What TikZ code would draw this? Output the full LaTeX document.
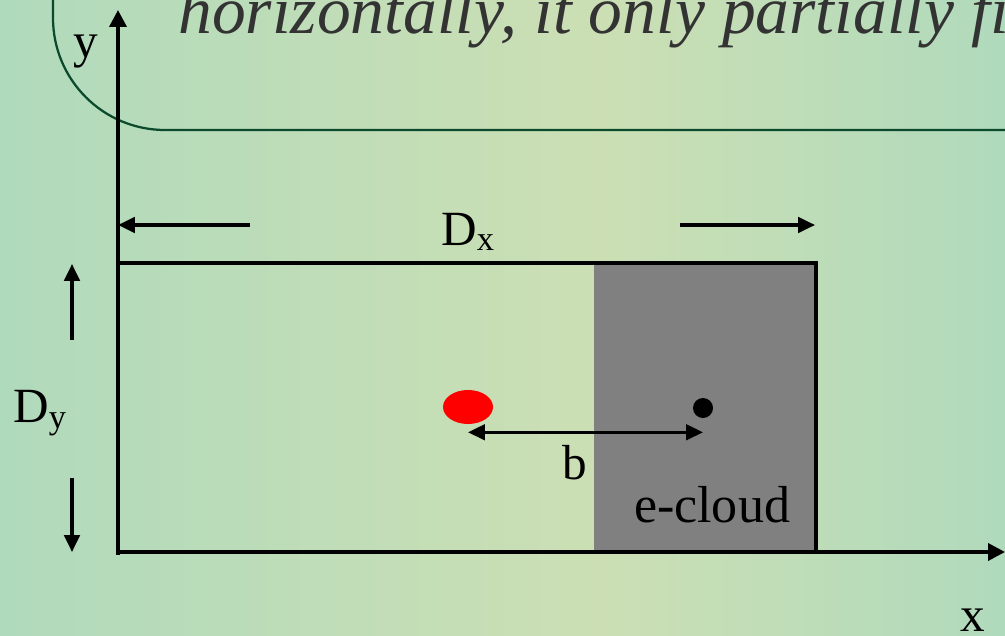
\documentclass[tikz,border=0pt]{standalone}
\usepackage{fontspec}
\setmainfont{Liberation Serif}
\usetikzlibrary{arrows.meta,positioning,shapes.geometric}
\definecolor{slidegreen}{HTML}{B0DABC}
\definecolor{slidepale}{HTML}{CCDFB4}
\definecolor{framegreen}{HTML}{0B4A2C}
\definecolor{titlegray}{HTML}{333333}
\begin{document}
\begin{tikzpicture}[
x=0.025cm, y=-0.025cm,
axis/.style={line width=2.6pt, -{Triangle[length=12pt,width=12pt]}},
dimarrow/.style={line width=2.2pt, -{Triangle[length=12pt,width=11pt]}},
lbl/.style={font=\fontsize{35}{38}\selectfont, inner sep=0pt}
]
% slide background
\shade[left color=slidegreen, right color=slidepale] (0,0) rectangle (600,636);
\shade[left color=slidepale, right color=slidegreen] (600,0) rectangle (1005,636);
\useasboundingbox (0,0) rectangle (1005,636);
% title frame
\draw[framegreen, line width=1.6pt, rounded corners=2.8cm] (53,-60) -- (53,130) -- (1060,130);
\node[anchor=base west, inner sep=0pt, text=titlegray,
  font=\fontsize{48}{52}\selectfont\itshape] (title) at (178,34) {horizontally, it only partially fi};
% box and e-cloud
\node[fill=gray, minimum width=5.55cm, minimum height=7.225cm, inner sep=0pt] (cloud) at (705,407.5) {};
\node[draw, line width=2.8pt, minimum width=17.45cm, minimum height=7.225cm, inner sep=0pt, outer sep=0pt] (box) at (467,407.5) {};
\node[lbl, font=\fontsize{37}{40}\selectfont] (cloudtext) at (712,505) {e-cloud};
% axes
\coordinate (origin) at (118,552);
\coordinate (xend) at (1005,552);
\coordinate (yend) at (118,10);
\draw[axis] (118,555) -- (yend);
\draw[axis] (origin) -- (xend);
\node[lbl] (xlabel) at (973,620) {x};
\node[lbl] (ylabel) at (86,52) {y};
% D_x
\coordinate (dxl) at (250,225);
\coordinate (dxr) at (680,225);
\draw[dimarrow] (dxl) -- (118,225);
\draw[dimarrow] (dxr) -- (815,225);
\node[lbl] (dx) at (468,232) {D\textsubscript{x}};
% D_y
\coordinate (dyt) at (72,340);
\coordinate (dyb) at (72,478);
\draw[dimarrow] (dyt) -- (72,264);
\draw[dimarrow] (dyb) -- (72,552);
\node[lbl] (dy) at (40,413) {D\textsubscript{y}};
% beam and impact parameter
\node[ellipse, fill=red, minimum width=1.25cm, minimum height=0.85cm, inner sep=0pt] (beam) at (468,407) {};
\node[circle, fill=black, minimum size=0.5cm, inner sep=0pt] (centre) at (703,408) {};
\draw[dimarrow, {Triangle[length=12pt,width=11pt]}-{Triangle[length=12pt,width=11pt]}]
  ([yshift=-0.2cm]beam.south) -- ([yshift=-0.2cm]beam.south -| centre);
\node[lbl] (b) at (575,463) {b};
\end{tikzpicture}
\end{document}
